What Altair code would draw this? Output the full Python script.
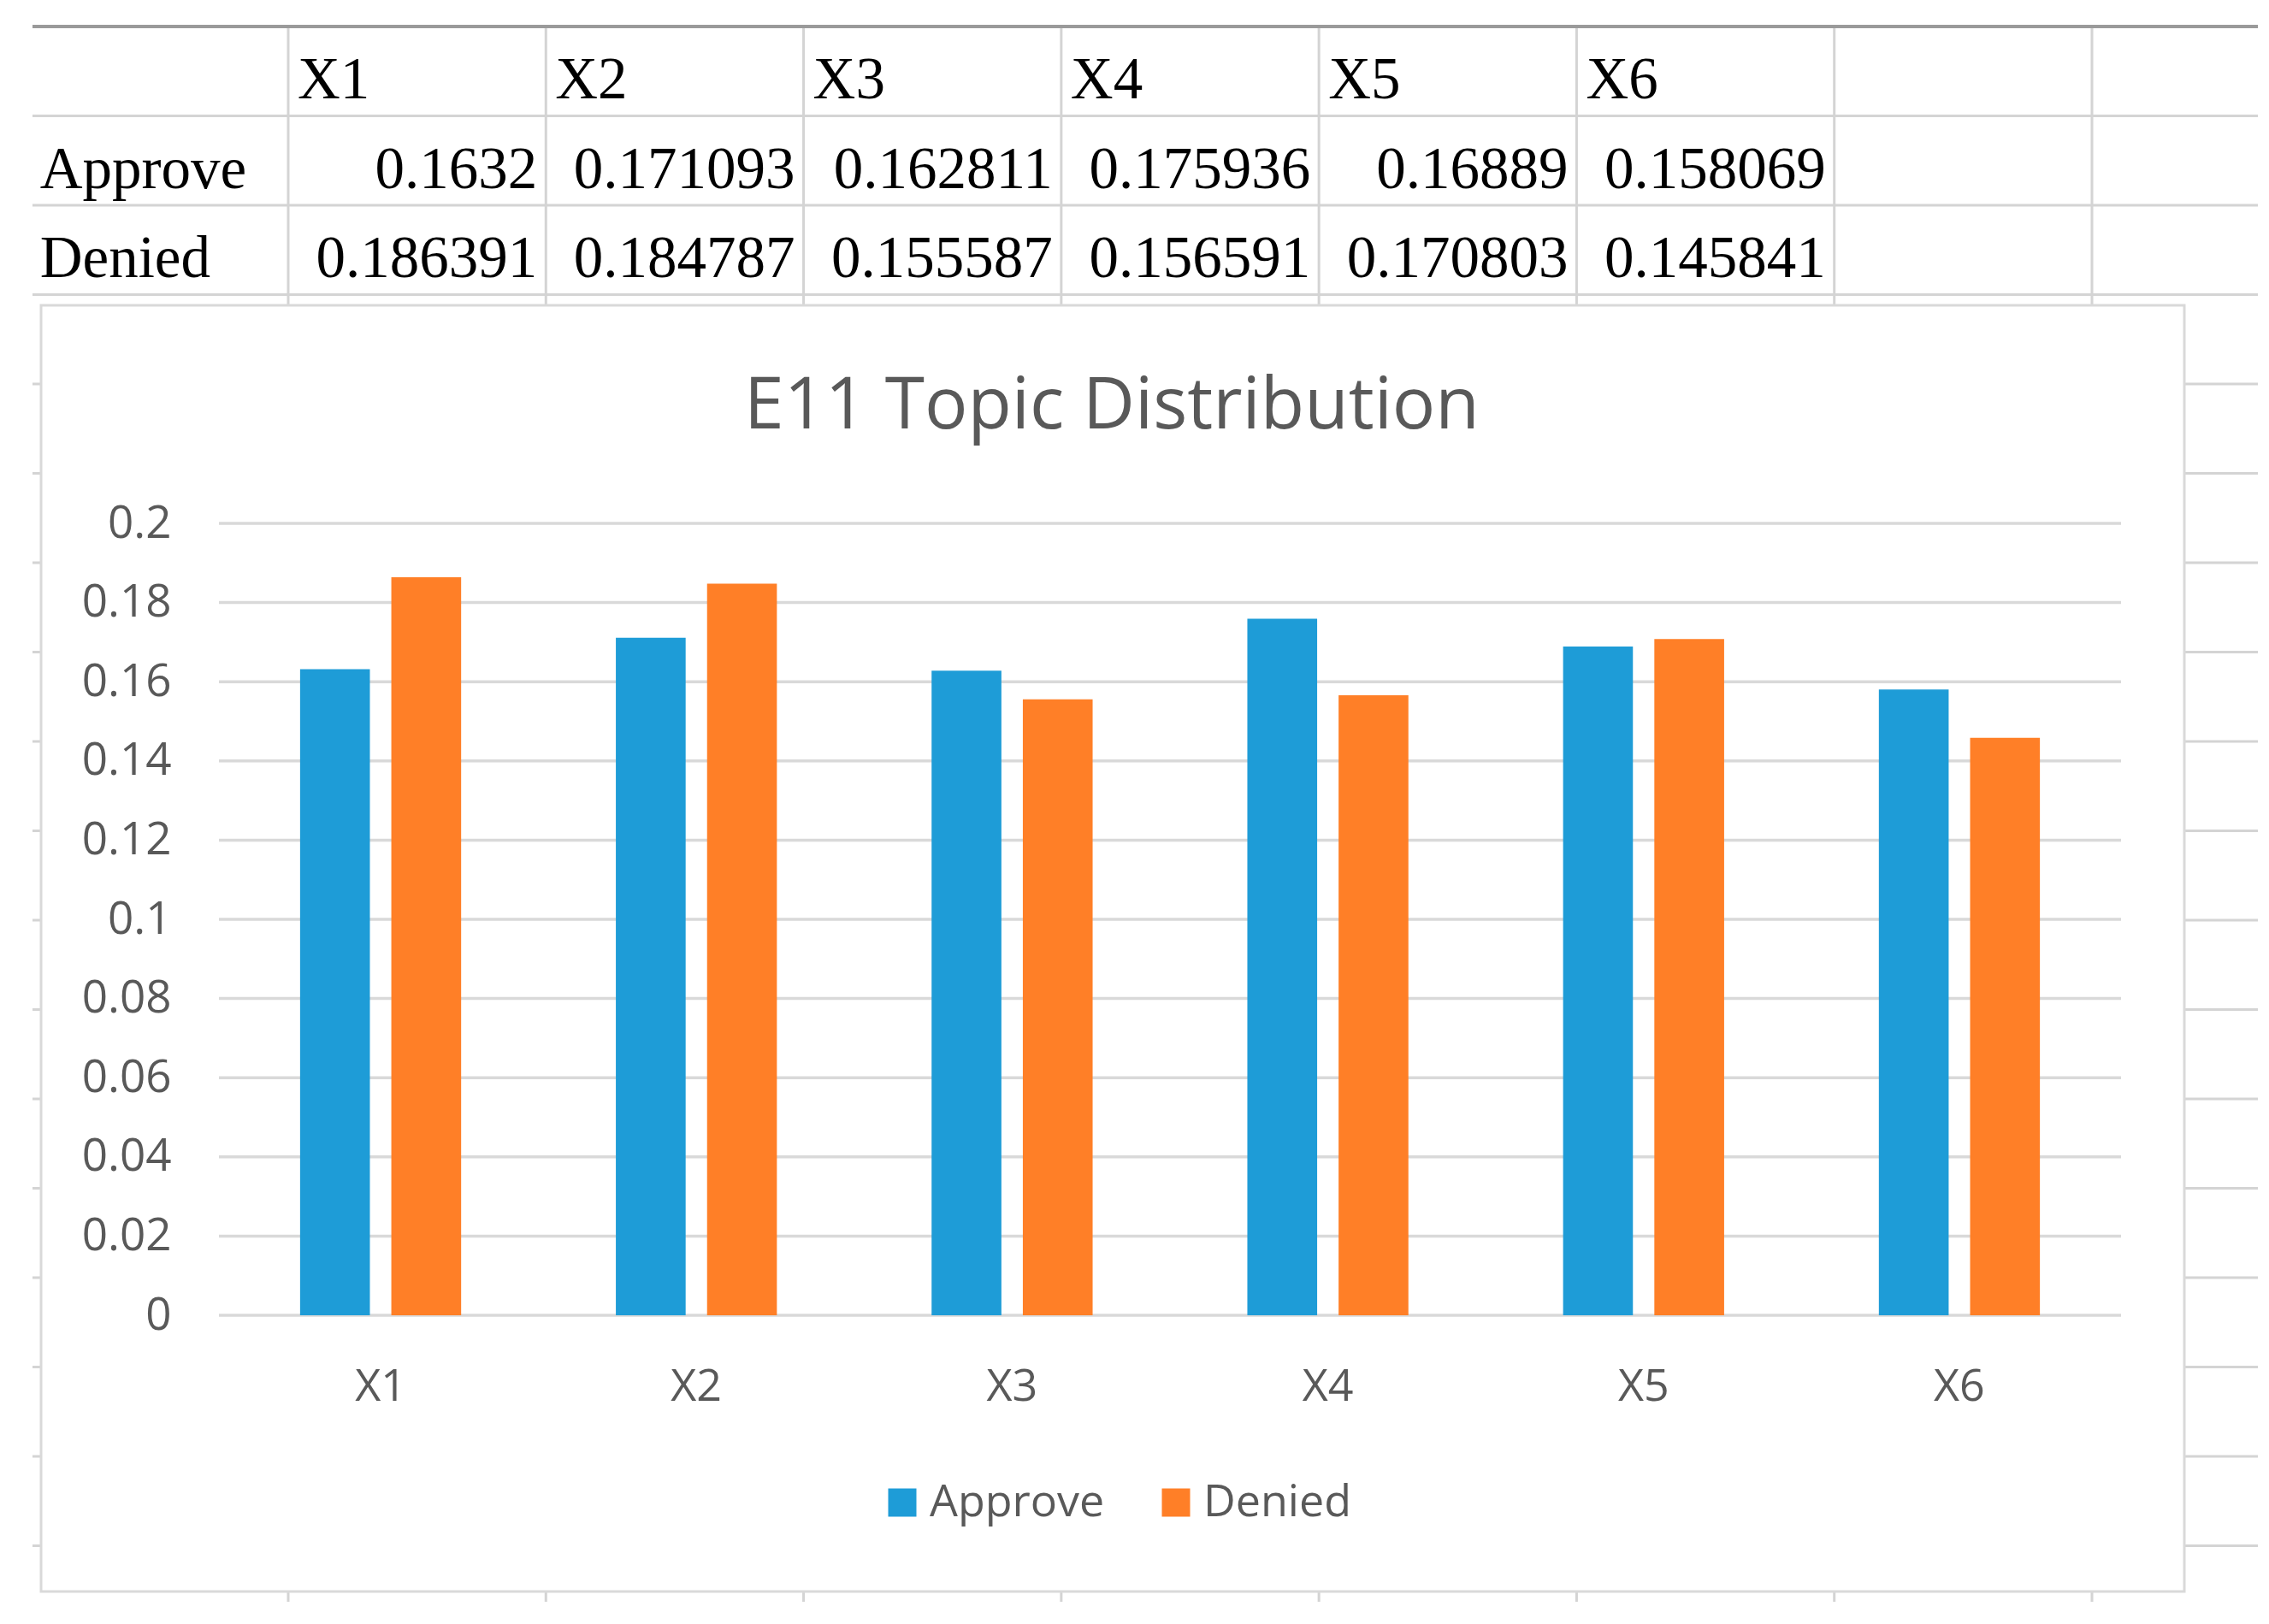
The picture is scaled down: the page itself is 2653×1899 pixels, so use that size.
import altair as alt
import pandas as pd

# ---- data ----
TITLE = "E11 Topic Distribution"
topics = ["X1", "X2", "X3", "X4", "X5", "X6"]
series = ["Approve", "Denied"]
approve = [0.1632, 0.171093, 0.162811, 0.175936, 0.16889, 0.158069]
denied = [0.186391, 0.184787, 0.155587, 0.156591, 0.170803, 0.145841]
y_ticks = [0, 0.02, 0.04, 0.06, 0.08, 0.1, 0.12, 0.14, 0.16, 0.18, 0.2]
colors = ["#1E9CD7", "#FF7F27"]

# spreadsheet grid (row / column boundary indices)
sheet_rows = list(range(1, 18))
sheet_cols = list(range(1, 9))


def fmt(v):
    return f"{v:.6f}".rstrip("0").rstrip(".")


values = [approve, denied]
bars_df = pd.DataFrame(
    [{"topic": t, "series": s, "value": v}
     for s, vals in zip(series, values) for t, v in zip(topics, vals)]
)

left_rows = [{"b": k + 1, "r": 0, "text": t} for k, t in enumerate(topics)]
left_rows += [{"b": 0, "r": i + 1, "text": s} for i, s in enumerate(series)]
left_df = pd.DataFrame(left_rows)
right_df = pd.DataFrame(
    [{"b": k + 2, "r": i + 1, "text": fmt(v)}
     for i, vals in enumerate(values) for k, v in enumerate(vals)]
)
hrow_df = pd.DataFrame({"r": sheet_rows})
top_df = pd.DataFrame({"r": [0]})
vcol_df = pd.DataFrame({"b": sheet_cols})
tick_df = pd.DataFrame({"tick": y_ticks})
one_df = pd.DataFrame({"text": [TITLE]})

FONT = "Open Sans"
GREY = "#595959"

tx = alt.Scale(domain=[0, 8], range=[-220.3, 2190], nice=False, zero=False)
ty = alt.Scale(domain=[0, 17], range=[-581, 1195.5], nice=False, zero=False)

hrules = alt.Chart(hrow_df).mark_rule(color="#d4d4d4", strokeWidth=3).encode(
    y=alt.Y("r:Q", scale=ty, axis=None),
    x=alt.value(-218), x2=alt.value(2384),
)
toprule = alt.Chart(top_df).mark_rule(color="#9a9a9a", strokeWidth=4).encode(
    y=alt.Y("r:Q", scale=ty, axis=None),
    x=alt.value(-218), x2=alt.value(2384),
)
vrules = alt.Chart(vcol_df).mark_rule(color="#d4d4d4", strokeWidth=3).encode(
    x=alt.X("b:Q", scale=tx, axis=None),
    y=alt.value(-581), y2=alt.value(1261),
)

box = alt.Chart(one_df).mark_rect(fill="white", stroke="#d9d9d9", strokeWidth=3).encode(
    x=alt.value(-208), x2=alt.value(2298), y=alt.value(-255), y2=alt.value(1249)
)

grid = alt.Chart(tick_df).mark_rule(color="#d9d9d9", strokeWidth=3.5).encode(
    y=alt.Y("tick:Q", scale=alt.Scale(domain=[0, 0.2], nice=False), axis=None),
    x=alt.value(0), x2=alt.value(2224),
)

bars = alt.Chart(bars_df).mark_bar().encode(
    x=alt.X(
        "topic:N", sort=topics,
        scale=alt.Scale(paddingInner=0.49, paddingOuter=0.257),
        axis=alt.Axis(title=None, labelAngle=0, ticks=False, domain=False, grid=False,
                      labelPadding=58, labelFontSize=52, labelFont=FONT,
                      labelColor=GREY, zindex=1),
    ),
    xOffset=alt.XOffset("series:N", sort=series, scale=alt.Scale(paddingInner=0.235)),
    y=alt.Y(
        "value:Q",
        scale=alt.Scale(domain=[0, 0.2], nice=False),
        axis=alt.Axis(values=y_ticks, format="~g", title=None, grid=False,
                      domain=False, ticks=False, labelPadding=56, labelFontSize=53,
                      labelFont=FONT, labelColor=GREY, zindex=1),
    ),
    color=alt.Color(
        "series:N", sort=series,
        scale=alt.Scale(domain=series, range=colors),
        legend=alt.Legend(title=None, orient="none", legendX=773, legendY=1119,
                          direction="horizontal", symbolType="square",
                          symbolSize=1089, symbolStrokeWidth=0,
                          labelFontSize=52, labelFont=FONT, labelColor=GREY,
                          labelLimit=0, labelOffset=6, columnPadding=57, padding=0),
    ),
)

ltext = alt.Chart(left_df).mark_text(
    font="Liberation Serif", fontSize=69, color="black", align="left",
    baseline="alphabetic", dx=11, dy=84,
).encode(
    x=alt.X("b:Q", scale=tx, axis=None),
    y=alt.Y("r:Q", scale=ty, axis=None),
    text="text:N",
)
rtext = alt.Chart(right_df).mark_text(
    font="Liberation Serif", fontSize=69, color="black", align="right",
    baseline="alphabetic", dx=-10, dy=84,
).encode(
    x=alt.X("b:Q", scale=tx, axis=None),
    y=alt.Y("r:Q", scale=ty, axis=None),
    text="text:N",
)

title = alt.Chart(one_df).mark_text(
    font=FONT, fontSize=84, color=GREY, align="center", baseline="alphabetic"
).encode(x=alt.value(1044), y=alt.value(-111), text="text:N")

chart = alt.layer(
    hrules, vrules, toprule, box, grid, bars, ltext, rtext, title
).resolve_scale(
    x="independent", y="independent"
).properties(
    width=2224, height=926,
    autosize=alt.AutoSizeParams(type="none"),
    padding={"left": 248, "top": 604, "right": 164, "bottom": 352},
    background="white",
).configure_view(stroke=None)

chart.save("out.html", embed_options={"renderer": "svg", "actions": False})
